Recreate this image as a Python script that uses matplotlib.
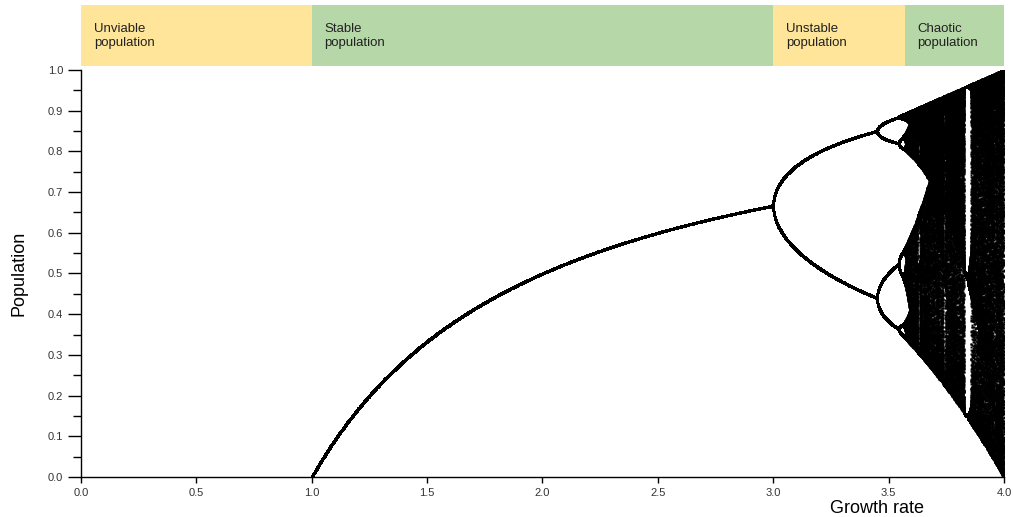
import numpy as np
import matplotlib.pyplot as plt
from matplotlib.transforms import blended_transform_factory

# regions shown in the strip above the plot
band_starts = [0.0, 1.0, 3.0, 3.57]
band_ends = [1.0, 3.0, 3.57, 4.0]
band_labels = ["Unviable\npopulation", "Stable\npopulation",
               "Unstable\npopulation", "Chaotic\npopulation"]
band_colors = ["#ffe599", "#b6d7a8", "#ffe599", "#b6d7a8"]

x_ticks = [0.0, 0.5, 1.0, 1.5, 2.0, 2.5, 3.0, 3.5, 4.0]
y_ticks = [0.0, 0.1, 0.2, 0.3, 0.4, 0.5, 0.6, 0.7, 0.8, 0.9, 1.0]

# logistic map x -> r x (1 - x), long-run values for each growth rate
rates = np.linspace(1.0, 4.0, 2000)
n_skip = 600
n_keep = 230

x = np.full_like(rates, 0.5)
for i in range(n_skip):
    x = rates * x * (1 - x)
pts_r = []
pts_x = []
for i in range(n_keep):
    x = rates * x * (1 - x)
    pts_r.append(rates.copy())
    pts_x.append(x.copy())
pts_r = np.concatenate(pts_r)
pts_x = np.concatenate(pts_x)

plt.rcParams['font.family'] = ['Liberation Sans', 'DejaVu Sans']

fig = plt.figure(figsize=(10.13, 5.17), dpi=100)
ax = fig.add_axes([0.080, 0.0774, 0.911, 0.7872])

ax.plot(pts_r, pts_x, 's', color='black', markersize=1.4, markeredgewidth=0,
        rasterized=True)

ax.set_xlim(0, 4)
ax.set_ylim(0, 1)
ax.set_xticks(x_ticks)
ax.set_yticks(y_ticks)
ax.set_xticklabels([f"{v:.1f}" for v in x_ticks])
ax.set_yticklabels([f"{v:.1f}" for v in y_ticks])
ax.set_yticks(np.arange(0.05, 1.0, 0.1), minor=True)

for s in ['top', 'right']:
    ax.spines[s].set_visible(False)
for s in ['left', 'bottom']:
    ax.spines[s].set_linewidth(1.0)
ax.tick_params(axis='y', which='major', direction='out', length=9.5, width=1,
               labelsize=8, labelcolor='#333333')
ax.tick_params(axis='y', which='minor', direction='out', length=5.5, width=1)
ax.tick_params(axis='x', which='major', direction='out', length=4.5, width=1,
               labelsize=8, labelcolor='#333333')

trans = blended_transform_factory(ax.transData, ax.transAxes)
for s, e, lab, c in zip(band_starts, band_ends, band_labels, band_colors):
    rect = plt.Rectangle((s, 1.01), e - s, 0.15, transform=trans,
                         facecolor=c, edgecolor='none', clip_on=False)
    ax.add_patch(rect)
    ax.text(s + 0.055, 1.083, lab, transform=trans, fontsize=9.5,
            color='#222222', va='center', ha='left', linespacing=1.25)

ax.set_ylabel("Population", fontsize=13)
ax.yaxis.set_label_coords(-0.058, 0.5)
ax.text(3.45, -0.078, "Growth rate", transform=trans, fontsize=13,
        ha='center', va='center')

plt.savefig("out.png", dpi=100)
